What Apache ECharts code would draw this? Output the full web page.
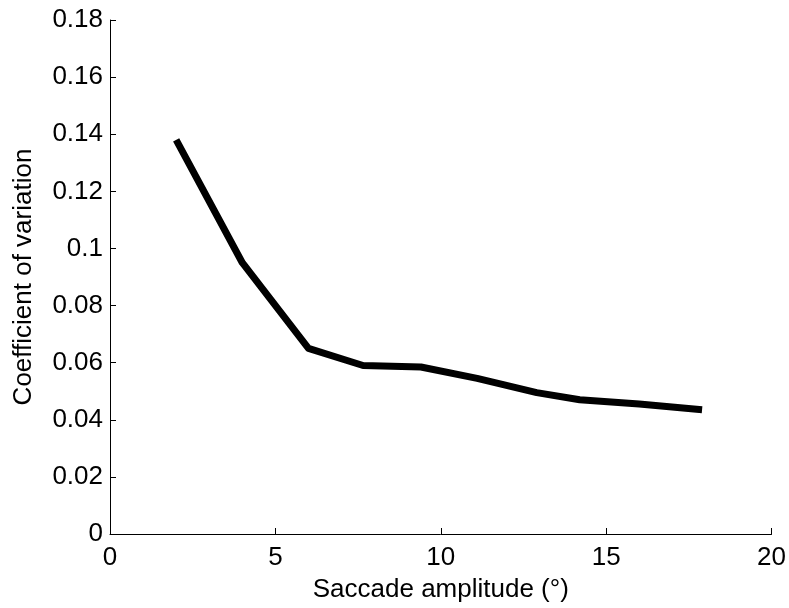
<!DOCTYPE html>
<html>
<head>
<meta charset="utf-8">
<script src="https://cdn.jsdelivr.net/npm/echarts@6/dist/echarts.min.js"></script>
<style>
html,body{margin:0;padding:0;background:#fff;}
#chart{width:789px;height:608px;}
</style>
</head>
<body>
<div id="chart"></div>
<script>
var amplitude = [2.0, 4.0, 6.0, 7.65, 9.4, 11.1, 12.9, 14.2, 16.0, 17.9];
var cv = [0.138, 0.095, 0.065, 0.059, 0.0585, 0.0545, 0.0495, 0.047, 0.0455, 0.0435];
var xTitle = 'Saccade amplitude (°)';
var yTitle = 'Coefficient of variation';

var points = amplitude.map(function (a, i) { return [a, cv[i]]; });
var font = 'Liberation Sans, Arial, sans-serif';

var chart = echarts.init(document.getElementById('chart'), null, {renderer: 'canvas'});
chart.setOption({
  animation: false,
  backgroundColor: '#fff',
  grid: {left: 110, right: 16, top: 20, bottom: 73, containLabel: false},
  xAxis: {
    type: 'value', min: 0, max: 20, interval: 5,
    name: xTitle, nameLocation: 'middle', nameGap: 43,
    nameTextStyle: {fontFamily: font, fontSize: 26, color: '#000'},
    axisLine: {show: true, lineStyle: {color: '#000', width: 1}},
    axisTick: {show: true, inside: true, length: 6, lineStyle: {color: '#000'}},
    axisLabel: {fontFamily: font, fontSize: 26, color: '#000', margin: 11},
    splitLine: {show: false}
  },
  yAxis: {
    type: 'value', min: 0, max: 0.18, interval: 0.02,
    name: yTitle, nameLocation: 'middle', nameGap: 73, nameRotate: 90,
    nameTextStyle: {fontFamily: font, fontSize: 26, color: '#000'},
    axisLine: {show: true, lineStyle: {color: '#000', width: 1}},
    axisTick: {show: true, inside: true, length: 6, lineStyle: {color: '#000'}},
    axisLabel: {fontFamily: font, fontSize: 26, color: '#000', margin: 7,
      formatter: function (v) { return String(parseFloat(v.toFixed(2))); }},
    splitLine: {show: false}
  },
  series: [{
    type: 'line',
    data: points,
    showSymbol: false,
    symbol: 'none',
    lineStyle: {color: '#000', width: 7, cap: 'butt', join: 'round'}
  }]
});
</script>
</body>
</html>
